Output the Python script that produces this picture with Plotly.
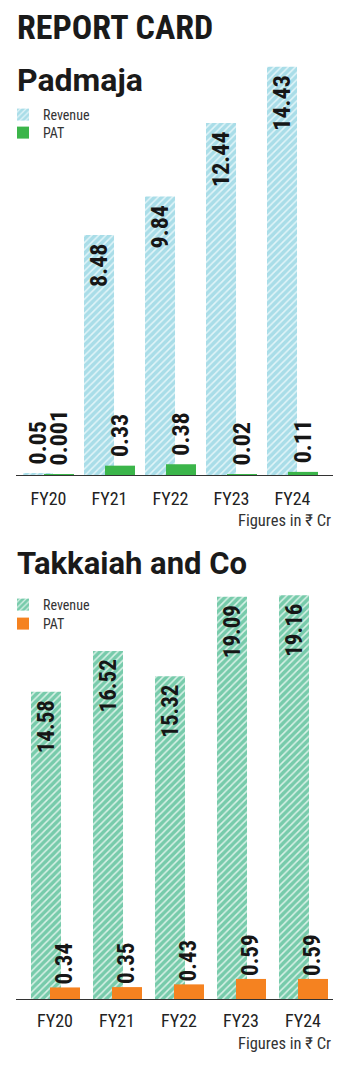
import plotly.graph_objects as go

# ---------------- data ----------------
years = ["FY20", "FY21", "FY22", "FY23", "FY24"]
padmaja_revenue = [0.05, 8.48, 9.84, 12.44, 14.43]
padmaja_pat = [0.001, 0.33, 0.38, 0.02, 0.11]
takkaiah_revenue = [14.58, 16.52, 15.32, 19.09, 19.16]
takkaiah_pat = [0.34, 0.35, 0.43, 0.59, 0.59]
padmaja_rev_pos = ["outside", "inside", "inside", "inside", "inside"]
takkaiah_rev_pos = ["inside"] * 5

title_text = "REPORT CARD"
company1 = "Padmaja"
company2 = "Takkaiah and Co"
unit_note = "Figures in ₹ Cr"

# ---------------- style ----------------
W, H = 350, 1066
NARROW = "Roboto Condensed, Liberation Sans, sans-serif"
BOLD = "Roboto, Noto Sans, sans-serif"
BLUE = "#6fc6d8"
BLUE_BG = "#e2f4f8"
GREEN_REV = "#16a56f"
GREEN_BG = "#d9f1e7"
GREEN_PAT = "#3bb54a"
ORANGE = "#f58220"
INK = "#161616"
NB = "\u00a0"


def py(px):
    return 1 - px / H


def fmt(v):
    return str(v)


fig = go.Figure()

# Padmaja
fig.add_trace(go.Bar(
    x=years, y=padmaja_revenue, name="Revenue", legend="legend",
    xaxis="x", yaxis="y",
    width=0.492, offset=-0.418,
    marker=dict(color=BLUE, line=dict(width=0),
                pattern=dict(shape="/", fgcolor=BLUE, bgcolor=BLUE_BG,
                             size=5, solidity=0.7)),
    text=[(NB + fmt(v)) if p == "outside" else (fmt(v) + NB) for v, p in zip(padmaja_revenue, padmaja_rev_pos)],
    textposition=padmaja_rev_pos, insidetextanchor="end", textangle=-90,
    constraintext="none", cliponaxis=False,
    textfont=dict(family=NARROW, size=24, color=INK, weight=700),
    hoverinfo="skip",
))
fig.add_trace(go.Bar(
    x=years, y=padmaja_pat, name="PAT", legend="legend2",
    xaxis="x", yaxis="y",
    width=0.492, offset=-0.074,
    marker=dict(color=GREEN_PAT, line=dict(width=0)),
    text=[NB + fmt(v) for v in padmaja_pat],
    textposition="outside", textangle=-90,
    constraintext="none", cliponaxis=False,
    textfont=dict(family=NARROW, size=24, color=INK, weight=700),
    hoverinfo="skip",
))

# Takkaiah
fig.add_trace(go.Bar(
    x=years, y=takkaiah_revenue, name="Revenue", legend="legend3",
    xaxis="x2", yaxis="y2",
    width=0.484, offset=-0.387,
    marker=dict(color=GREEN_REV, line=dict(width=0),
                pattern=dict(shape="/", fgcolor=GREEN_REV, bgcolor=GREEN_BG,
                             size=5, solidity=0.7)),
    text=[fmt(v) + NB for v in takkaiah_revenue],
    textposition=takkaiah_rev_pos, insidetextanchor="end", textangle=-90,
    constraintext="none", cliponaxis=False,
    textfont=dict(family=NARROW, size=23, color=INK, weight=700),
    hoverinfo="skip",
))
fig.add_trace(go.Bar(
    x=years, y=takkaiah_pat, name="PAT", legend="legend4",
    xaxis="x2", yaxis="y3",
    width=0.484, offset=-0.081,
    marker=dict(color=ORANGE, line=dict(width=0)),
    text=[fmt(v) for v in takkaiah_pat],
    textposition="outside", textangle=-90,
    constraintext="none", cliponaxis=False,
    textfont=dict(family=NARROW, size=23, color=INK, weight=700),
    hoverinfo="skip",
))

xdom = [16 / W, 333 / W]
axis_common = dict(showline=True, linecolor="#333333", linewidth=1,
                   showgrid=False, zeroline=False, ticks="outside",
                   tickcolor="rgba(0,0,0,0)",
                   tickfont=dict(family=NARROW, size=18, color="#222"),
                   fixedrange=True)


def legend_at(top_px):
    return dict(x=3 / W, y=py(top_px), xanchor="left", yanchor="top",
                font=dict(family=NARROW, size=14, color="#333"),
                bgcolor="rgba(0,0,0,0)", itemwidth=30)


fig.update_layout(
    width=W, height=H,
    margin=dict(l=0, r=0, t=0, b=0),
    paper_bgcolor="white", plot_bgcolor="white",
    barmode="overlay",
    showlegend=True,
    xaxis=dict(domain=xdom, anchor="y", range=[-0.533, 4.664], ticklen=7, **axis_common),
    yaxis=dict(domain=[py(475), py(60)], range=[0, (475 - 60) / 28.3], visible=False, fixedrange=True),
    xaxis2=dict(domain=xdom, anchor="y2", range=[-0.629, 4.484], ticklen=5, **axis_common),
    yaxis2=dict(domain=[py(999), py(580)], range=[0, (999 - 580) / 21.07], visible=False, fixedrange=True),
    yaxis3=dict(overlaying="y2", range=[0, (999 - 580) / 34.0], visible=False, fixedrange=True),
    legend=legend_at(99),
    legend2=legend_at(117),
    legend3=legend_at(589),
    legend4=legend_at(608),
    annotations=[
        dict(text=title_text, xref="paper", yref="paper", x=15 / W, y=py(27),
             xanchor="left", yanchor="middle", showarrow=False,
             font=dict(family=NARROW, size=34, color="#1a1a1a", weight=700)),
        dict(text=company1, xref="paper", yref="paper", x=15 / W, y=py(80),
             xanchor="left", yanchor="middle", showarrow=False,
             font=dict(family=BOLD, size=32, color="#1a1a1a", weight=700)),
        dict(text=company2, xref="paper", yref="paper", x=15 / W, y=py(563),
             xanchor="left", yanchor="middle", showarrow=False,
             font=dict(family=BOLD, size=31, color="#1a1a1a", weight=700)),
        dict(text=unit_note, xref="paper", yref="paper", x=333 / W, y=py(520),
             xanchor="right", yanchor="middle", showarrow=False,
             font=dict(family=NARROW, size=16.5, color="#333")),
        dict(text=unit_note, xref="paper", yref="paper", x=333 / W, y=py(1043),
             xanchor="right", yanchor="middle", showarrow=False,
             font=dict(family=NARROW, size=16.5, color="#333")),
    ],
)

fig.write_html("out.html", config={"displayModeBar": False})
